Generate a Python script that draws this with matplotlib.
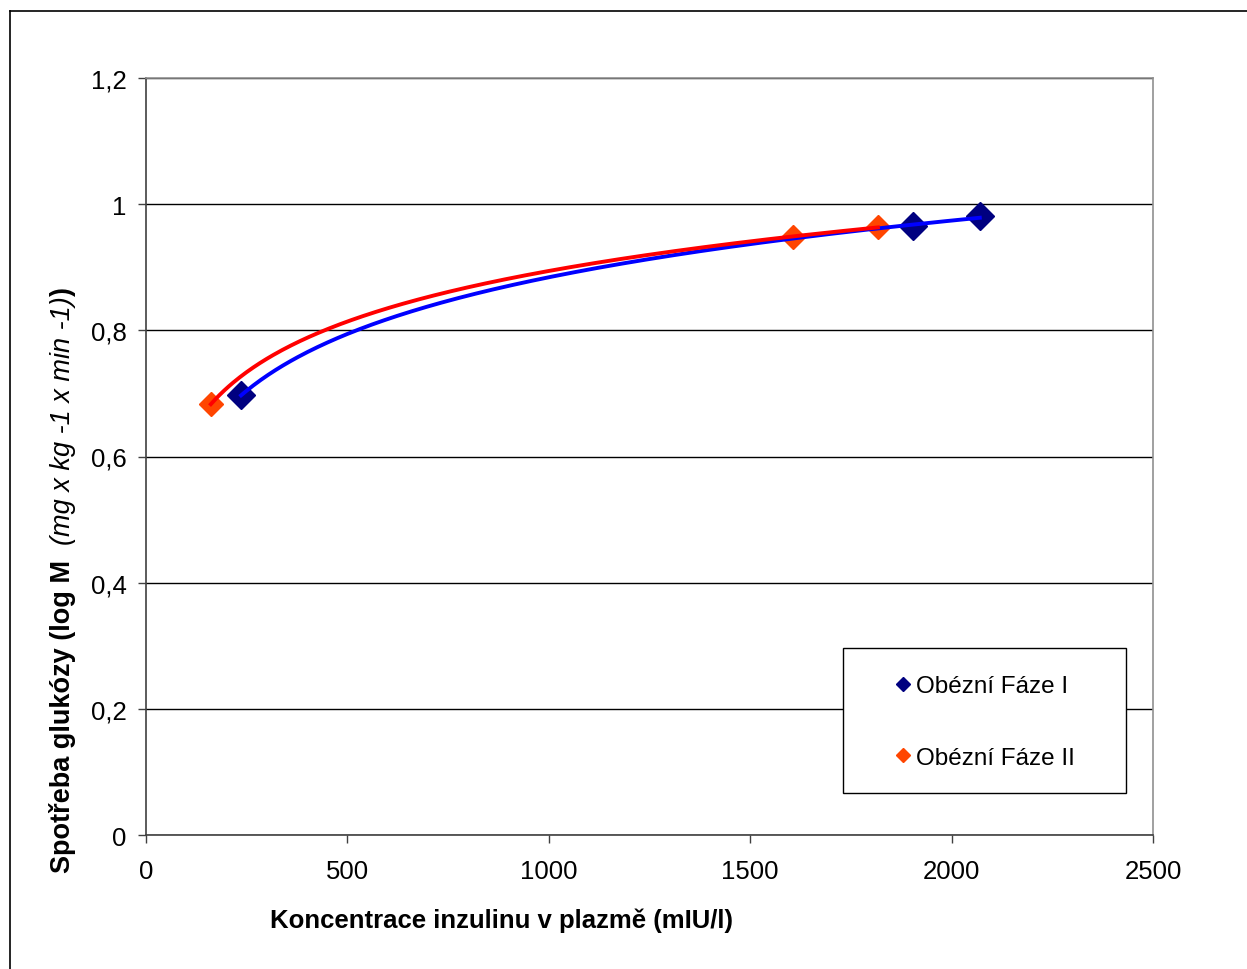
import numpy as np
import matplotlib.pyplot as plt
from matplotlib.lines import Line2D
from matplotlib.patches import Rectangle
from matplotlib.ticker import FuncFormatter

plt.rcParams["font.family"] = ["Liberation Sans", "DejaVu Sans"]

# data
phase1_x = [236, 1904, 2070]
phase1_y = [0.697, 0.965, 0.981]
phase2_x = [161, 1606, 1817]
phase2_y = [0.683, 0.948, 0.964]

labels = ["Obézní Fáze I", "Obézní Fáze II"]
x_ticks = [0, 500, 1000, 1500, 2000, 2500]
y_ticks = [0, 0.2, 0.4, 0.6, 0.8, 1.0, 1.2]

W, H = 1247, 970
fig = plt.figure(figsize=(W / 100, H / 100), dpi=100)
ax = fig.add_axes([146 / W, 1 - 836 / H, (1153 - 146) / W, (836 - 79) / H])

# outer chart border (left + top visible)
fig.add_artist(Line2D([10 / W, 10 / W], [0, 1 - 12 / H], transform=fig.transFigure, color="black", lw=1.2))
fig.add_artist(Line2D([10 / W, 1], [1 - 12 / H, 1 - 12 / H], transform=fig.transFigure, color="black", lw=1.2))

# markers
ax.plot(phase1_x, phase1_y, "D", color="#000080", ms=14.5, mec="#000080", zorder=3)
ax.plot(phase2_x, phase2_y, "D", color="#FF4500", ms=12.5, mec="#FF4500", zorder=3)


# logarithmic trendlines (as in Excel)
def log_trend(xs, ys):
    a, b = np.polyfit(np.log(xs), ys, 1)
    xx = np.linspace(min(xs), max(xs), 300)
    return xx, a * np.log(xx) + b


tx, ty = log_trend(phase1_x, phase1_y)
ax.plot(tx, ty, color="#0000FF", lw=2.8, zorder=4)
tx, ty = log_trend(phase2_x, phase2_y)
ax.plot(tx, ty, color="#FF0000", lw=2.8, zorder=5)

ax.set_xlim(0, 2500)
ax.set_ylim(0, 1.2)
ax.set_xticks(x_ticks)
ax.set_yticks(y_ticks)
ax.yaxis.set_major_formatter(FuncFormatter(lambda v, p: ("%g" % round(v, 1)).replace(".", ",")))
ax.tick_params(axis="both", labelsize=18.5, length=6, width=1, color="#404040", direction="out")
ax.tick_params(axis="y", pad=8)
ax.tick_params(axis="x", pad=11)
ax.grid(axis="y", color="black", lw=1)
ax.set_axisbelow(True)
for s in ["left", "bottom"]:
    ax.spines[s].set_color("#404040")
    ax.spines[s].set_linewidth(1.2)
for s in ["top", "right"]:
    ax.spines[s].set_color("#909090")
    ax.spines[s].set_linewidth(1.2)

# legend with its own frame
box = Rectangle((843 / W, 1 - 794 / H), (1126 - 843) / W, (794 - 649) / H,
                transform=fig.transFigure, facecolor="white", edgecolor="black", lw=1, zorder=10)
fig.add_artist(box)
handles = [
    Line2D([], [], ls="none", marker="D", ms=7, color="#000080"),
    Line2D([], [], ls="none", marker="D", ms=7, color="#FF4500"),
]
leg = fig.legend(handles, labels, loc="upper left", bbox_to_anchor=(897 / W, 1 - 676 / H),
                 frameon=False, fontsize=17.5, handlelength=0.5, handletextpad=0.3,
                 labelspacing=2.05, borderpad=0, borderaxespad=0)
leg.set_zorder(11)

# x label
fig.text(502 / W, 1 - 921 / H, "Koncentrace inzulinu v plazmě (mIU/l)",
         fontsize=18.5, fontweight="bold", ha="center", va="center")

# y label in mixed styles, stacked upward
fig.canvas.draw()
r = fig.canvas.get_renderer()
parts = [
    ("Spotřeba glukózy (log M  ", "bold", "normal"),
    ("(mg x kg -1 x min -1)", "normal", "italic"),
    (")", "bold", "normal"),
]
y0 = 873
for txt, w, st in parts:
    t = fig.text(63 / W, 1 - y0 / H, txt, rotation=90, fontsize=19.5, fontweight=w, fontstyle=st,
                 ha="left", va="center", rotation_mode="anchor")
    bb = t.get_window_extent(r)
    y0 -= bb.height

fig.savefig("out.png", dpi=100)
